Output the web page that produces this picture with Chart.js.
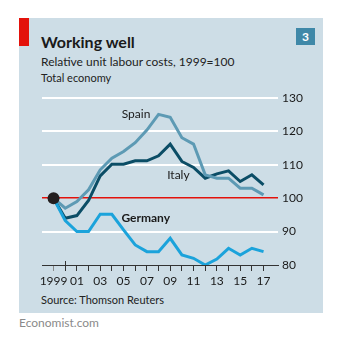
<!DOCTYPE html>
<html><head><meta charset="utf-8">
<script src="https://cdn.jsdelivr.net/npm/chart.js@4/dist/chart.umd.min.js"></script>
<style>
html,body{margin:0;padding:0;background:#fff;width:349px;height:346px;overflow:hidden;font-family:Lato,"Noto Sans",sans-serif;}
#panel{position:absolute;left:19px;top:18px;width:304px;height:295px;background:#cddde6;}
#redbar{position:absolute;left:19px;top:18px;width:10px;height:28px;background:#e3120b;}
.t{position:absolute;white-space:nowrap;color:#1a1a1a;}
#title{left:41px;top:32px;font-size:16px;font-weight:bold;}
#sub{left:41px;top:54px;font-size:12px;color:#222;}
#sub2{left:41px;top:71px;font-size:11px;color:#222;}
#src{left:41px;top:293px;font-size:11px;color:#222;}
#eco{left:19px;top:315px;font-size:12px;color:#8a8a8a;}
#num{position:absolute;left:296px;top:28px;width:19px;height:17px;background:#3f88a8;color:#fff;font-weight:bold;font-size:12px;text-align:center;line-height:17px;}
canvas{position:absolute;left:0;top:0;}
</style></head>
<body>
<div id="panel"></div><div id="redbar"></div>
<div class="t" id="title">Working well</div>
<div class="t" id="sub">Relative unit labour costs, 1999=100</div>
<div class="t" id="sub2">Total economy</div>
<div class="t" id="src">Source: Thomson Reuters</div>
<div class="t" id="eco">Economist.com</div>
<div id="num">3</div>
<canvas id="c" width="349" height="346"></canvas>
<script>
const years = [1999,2000,2001,2002,2003,2004,2005,2006,2007,2008,2009,2010,2011,2012,2013,2014,2015,2016,2017];
const spain   = [100,97,99,102.5,108.5,112,114,116.6,120.4,125.1,124.2,118.1,116.2,107,106,106,103,103,101];
const italy   = [100,94,94.8,99.3,106.7,110.2,110.2,111.2,111.2,112.7,116.2,111,109.2,106,107.3,108.2,105,107,104];
const germany = [100,93.3,90,90,95.2,95.2,90.5,86,84,84,88,83,82,80,81.8,85,83,85,84];
const yTicks = [80,90,100,110,120,130];
const seriesLabels = [
  {text:'Spain', x:2006.07, y:125.2, bold:false},
  {text:'Italy', x:2009.7, y:107, bold:false},
  {text:'Germany', x:2006.9, y:94.1, bold:true}
];
const FONT = 'Lato, "Noto Sans", sans-serif';

const pts = arr => arr.map((v,i)=>({x:years[i], y:v}));

const extras = {
  id:'extras',
  afterDatasetsDraw(chart){
    const ctx = chart.ctx, xs = chart.scales.x, ys = chart.scales.y;
    ctx.save();
    ctx.fillStyle = '#1a1a1a';
    ctx.textAlign = 'center'; ctx.textBaseline = 'middle';
    seriesLabels.forEach(l=>{
      ctx.font = (l.bold?'bold ':'') + '12px ' + FONT;
      ctx.fillText(l.text, xs.getPixelForValue(l.x), ys.getPixelForValue(l.y));
    });
    ctx.fillStyle = '#231f20';
    ctx.beginPath();
    ctx.arc(xs.getPixelForValue(years[0]), ys.getPixelForValue(100), 6, 0, Math.PI*2);
    ctx.fill();
    const px = Math.round(xs.getPixelForValue(2000))+0.5;
    ctx.strokeStyle = '#333'; ctx.lineWidth = 1;
    ctx.beginPath(); ctx.moveTo(px, ys.bottom-4); ctx.lineTo(px, ys.bottom+3); ctx.stroke();
    ctx.restore();
  }
};

new Chart(document.getElementById('c'), {
  type:'line',
  data:{ datasets:[
    {label:'Germany', data:pts(germany), borderColor:'#1ba3db', borderWidth:3, pointRadius:0, tension:0, borderJoinStyle:'miter'},
    {label:'Spain', data:pts(spain), borderColor:'#5d9ab4', borderWidth:3, pointRadius:0, tension:0, borderJoinStyle:'miter'},
    {label:'Italy', data:pts(italy), borderColor:'#0b4d66', borderWidth:3, pointRadius:0, tension:0, borderJoinStyle:'miter'}
  ]},
  options:{
    responsive:false, animation:false, events:[],
    layout:{padding:{left:42, top:98, right:20, bottom:61}},
    plugins:{legend:{display:false}, tooltip:{enabled:false}},
    scales:{
      x:{type:'linear', min:1998.01, max:2018.24,
        afterBuildTicks(s){ s.ticks = years.map(v=>({value:v})); },
        afterFit(s){ s.height = 20; },
        grid:{drawOnChartArea:false, drawTicks:true, tickLength:6, color:(c)=> c.index===0 ? '#8a8a8a' : '#333', lineWidth:1},
        border:{display:true, color:'#333', width:1},
        ticks:{padding:3, autoSkip:false, maxRotation:0, color:'#1a1a1a', font:{family:FONT, size:12},
          callback:(v)=> v===1999 ? '1999' : ((v-1999)%2===0 ? String(v).slice(2) : '')}
      },
      y:{position:'right', min:80, max:130,
        afterBuildTicks(s){ s.ticks = yTicks.map(v=>({value:v})); },
        afterFit(s){ s.width = 51; },
        grid:{drawTicks:false, color:(c)=> c.tick.value===100 ? '#e3120b' : (c.tick.value===80 ? 'rgba(0,0,0,0)' : '#ffffff'), lineWidth:(c)=> c.tick.value===100 ? 1.5 : 2},
        border:{display:false},
        ticks:{padding:4, color:'#1a1a1a', font:{family:FONT, size:12}}
      }
    }
  },
  plugins:[extras]
});
</script>
</body></html>
